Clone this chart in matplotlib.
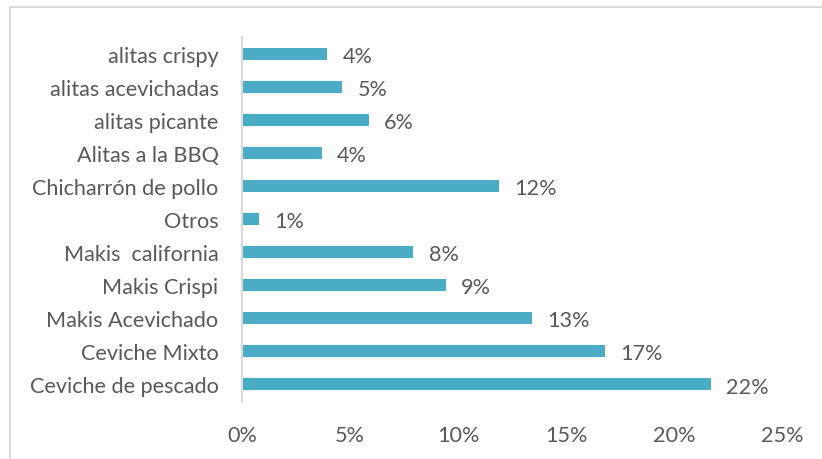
import matplotlib
matplotlib.use("Agg")
import matplotlib.pyplot as plt
from matplotlib.patches import Rectangle
from matplotlib.ticker import PercentFormatter

# platos, de arriba hacia abajo
platos = ["alitas crispy", "alitas acevichadas", "alitas picante", "Alitas a la BBQ",
          "Chicharrón de pollo", "Otros", "Makis  california", "Makis Crispi",
          "Makis Acevichado", "Ceviche Mixto", "Ceviche de pescado"]
porcentajes = [0.0395, 0.0464, 0.0586, 0.0369, 0.119, 0.008, 0.0793, 0.0943,
               0.1341, 0.168, 0.217]
ticks = [0, 0.05, 0.10, 0.15, 0.20, 0.25]

gris = "#595959"
fs = 15.6
plt.rcParams["font.family"] = ["Lato", "DejaVu Sans"]

fig = plt.figure(figsize=(8.22, 4.6), dpi=100)
fig.patches.append(Rectangle((10 / 822, -0.1), 1.2, 1 - 8 / 460 + 0.1,
                             transform=fig.transFigure, fill=False,
                             edgecolor="#d9d9d9", linewidth=1.5))

ax = fig.add_axes([242 / 822, 58 / 460, 540 / 822, 364 / 460])
y = range(len(platos))
ax.barh(y, porcentajes, height=0.36, color="#4bacc6")
ax.set_ylim(len(platos) - 0.5, -0.5)
ax.set_xlim(0, 0.25)
ax.set_yticks(list(y))
ax.set_yticklabels(platos)
ax.set_xticks(ticks)
ax.xaxis.set_major_formatter(PercentFormatter(1.0, decimals=0))

for i, v in enumerate(porcentajes):
    ax.annotate(f"{v:.0%}", (v, i), xytext=(11, -1.5), textcoords="offset points",
                va="center", ha="left", fontsize=fs, color=gris)

for s in ["top", "right", "bottom"]:
    ax.spines[s].set_visible(False)
ax.spines["left"].set_color("#d9d9d9")
ax.spines["left"].set_linewidth(1.5)
ax.tick_params(axis="both", length=0, labelsize=fs, labelcolor=gris)
ax.tick_params(axis="y", pad=17)
ax.tick_params(axis="x", pad=17)

fig.savefig("out.png", dpi=100)
